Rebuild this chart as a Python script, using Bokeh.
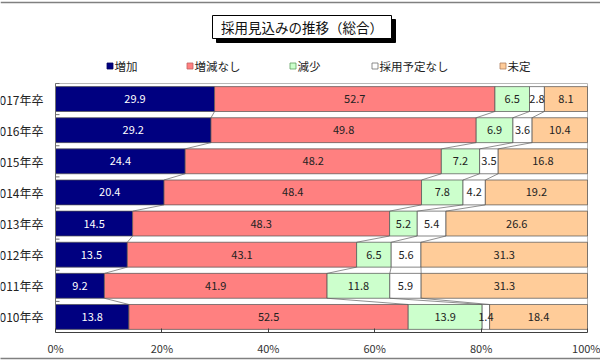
from bokeh.plotting import figure
from bokeh.models import Range1d, FixedTicker, LinearAxis
from bokeh.embed import file_html
from bokeh.resources import INLINE
from bokeh.core.properties import value

FONT = "Noto Sans CJK JP"

title_text = "採用見込みの推移（総合）"
years = ["2017年卒", "2016年卒", "2015年卒", "2014年卒", "2013年卒", "2012年卒", "2011年卒", "2010年卒"]
series_names = ["増加", "増減なし", "減少", "採用予定なし", "未定"]
increase = [29.9, 29.2, 24.4, 20.4, 14.5, 13.5, 9.2, 13.8]
no_change = [52.7, 49.8, 48.2, 48.4, 48.3, 43.1, 41.9, 52.5]
decrease = [6.5, 6.9, 7.2, 7.8, 5.2, 6.5, 11.8, 13.9]
no_plan = [2.8, 3.6, 3.5, 4.2, 5.4, 5.6, 5.9, 1.4]
undecided = [8.1, 10.4, 16.8, 19.2, 26.6, 31.3, 31.3, 18.4]
x_ticks = [0, 20, 40, 60, 80, 100]
x_tick_labels = ["0%", "20%", "40%", "60%", "80%", "100%"]

colors = ["#000080", "#FF8080", "#CCFFCC", "#FFFFFF", "#FFCC99"]
legend_edge = ["#000060", "#C06060", "#60A060", "#707070", "#B08060"]
text_colors = ["#FFFFFF", "#222222", "#222222", "#222222", "#222222"]

series = [increase, no_change, decrease, no_plan, undecided]
n = len(years)
ys = [n - 1 - i for i in range(n)]  # top row = 2017
totals = [sum(s[i] for s in series) for i in range(n)]

# layout (pixels)
W, H = 600, 364
PL, PR, PT, PB = 55, 587, 83, 332          # plot area edges on the canvas
px_x = (PR - PL) / 100.0                   # pixels per percent
px_y = (PB - PT) / n                       # pixels per row
x_lo = -PL / px_x
x_hi = 100 + (W - PR) / px_x
y_lo = -0.5
y_hi = -0.5 + PB / px_y

def sx(px):   # canvas x pixel -> data x
    return (px - PL) / px_x

def sy(py):   # canvas y pixel -> data y
    return (n - 0.5) + (PT - py) / px_y

p = figure(width=W, height=H, output_backend="svg", toolbar_location=None,
           x_range=Range1d(x_lo, x_hi), y_range=Range1d(y_lo, y_hi),
           y_axis_location=None,
           min_border_left=0, min_border_right=0, min_border_top=0, min_border_bottom=H - PB)
p.title.visible = False
p.outline_line_color = None
p.xgrid.visible = False
p.ygrid.visible = False
p.background_fill_color = "#FFFFFF"
p.border_fill_color = "#FFFFFF"

# top border line of chart object
p.segment(x0=[x_lo], y0=[sy(2)], x1=[x_hi], y1=[sy(2)], line_color="#808080", line_width=1.5)

# plot area frame (top and right light gray)
p.segment(x0=[0, 100], y0=[n - 0.5, -0.5], x1=[100, 100], y1=[n - 0.5, n - 0.5],
          line_color="#b8b8b8", line_width=1)

# bars
cums = []
mids_all = []
left = [0.0] * n
for k, s in enumerate(series):
    right = [left[i] + s[i] / totals[i] * 100 for i in range(n)]
    p.hbar(y=ys, left=left, right=right, height=0.8, fill_color=colors[k],
           line_color="#505050", line_width=0.7)
    mids_all.append([(left[i] + right[i]) / 2 for i in range(n)])
    cums.append(right)
    left = right

# series lines
for k in range(len(series) - 1):
    x0 = [cums[k][i] for i in range(n - 1)]
    x1 = [cums[k][i + 1] for i in range(n - 1)]
    y0 = [ys[i] - 0.4 for i in range(n - 1)]
    y1 = [ys[i + 1] + 0.4 for i in range(n - 1)]
    p.segment(x0=x0, y0=y0, x1=x1, y1=y1, line_color="#606060", line_width=0.7)

# data labels (drawn on top of all bars)
for k, s in enumerate(series):
    p.text(x=mids_all[k], y=ys, text=[f"{v:.1f}" for v in s], text_align="center",
           text_baseline="middle", text_font=value(FONT), text_font_size="11px",
           text_color=text_colors[k])

# category axis (left) drawn at x = 0
bounds = [y - 0.5 for y in range(n + 1)]
p.segment(x0=[0], y0=[-0.5], x1=[0], y1=[n - 0.5], line_color="#707070", line_width=1)
p.segment(x0=[0] * len(bounds), y0=bounds, x1=[4 / px_x] * len(bounds), y1=bounds,
          line_color="#707070", line_width=1)
p.text(x=[0] * n, y=ys, text=years, x_offset=-12, text_align="right", text_baseline="middle",
       text_font=value(FONT), text_font_size="12px", text_color="#222222")

# value axis
p.xaxis.bounds = (0, 100)
p.xaxis.ticker = FixedTicker(ticks=x_ticks)
p.xaxis.major_label_overrides = {t: l for t, l in zip(x_ticks, x_tick_labels)}
p.xaxis.major_tick_in = 4
p.xaxis.major_tick_out = 0
p.xaxis.minor_tick_line_color = None
p.xaxis.axis_line_color = "#404040"
p.xaxis.major_tick_line_color = "#404040"
p.xaxis.major_label_text_font = FONT
p.xaxis.major_label_text_font_size = "11px"
p.xaxis.major_label_text_color = "#333333"
p.xaxis.major_label_standoff = 7

# spacer + bottom border line of chart object
spacer = LinearAxis(ticker=FixedTicker(ticks=[]), axis_line_color=None, major_tick_out=7,
                    major_tick_in=0, major_label_standoff=0, minor_tick_out=0, minor_tick_in=0)
p.add_layout(spacer, "below")
border_axis = LinearAxis(ticker=FixedTicker(ticks=[]), axis_line_color="#808080", axis_line_width=1.5,
                         major_tick_out=0, major_tick_in=0, major_label_standoff=0,
                         minor_tick_out=0, minor_tick_in=0)
p.add_layout(border_axis, "below")

# title box with shadow
tx, ty = sx(301.5), sy(26.5)
p.rect(x=[sx(305.5)], y=[sy(30.5)], width=179, height=23, width_units="screen",
       height_units="screen", fill_color="#000000", line_color="#000000")
p.rect(x=[tx], y=[ty], width=179, height=23, width_units="screen",
       height_units="screen", fill_color="#FFFFFF", line_color="#000000", line_width=1)
p.text(x=[tx], y=[ty], text=[title_text], text_align="center", text_baseline="middle",
       text_font=value(FONT), text_font_size="13.5px", text_color="#111111")

# legend (manual)
leg_x = [sx(v) for v in (109.5, 189.5, 292.5, 374.5, 502.5)]
leg_y = [sy(65.5)] * len(series_names)
p.scatter(x=leg_x, y=leg_y, marker="square", size=6, fill_color=colors, line_color=legend_edge,
          line_width=0.8)
p.text(x=leg_x, y=leg_y, x_offset=4.5, text=series_names, text_align="left", text_baseline="middle",
       text_font=value(FONT), text_font_size="11.5px", text_color="#222222")

open("out.html", "w").write(file_html(p, INLINE))
